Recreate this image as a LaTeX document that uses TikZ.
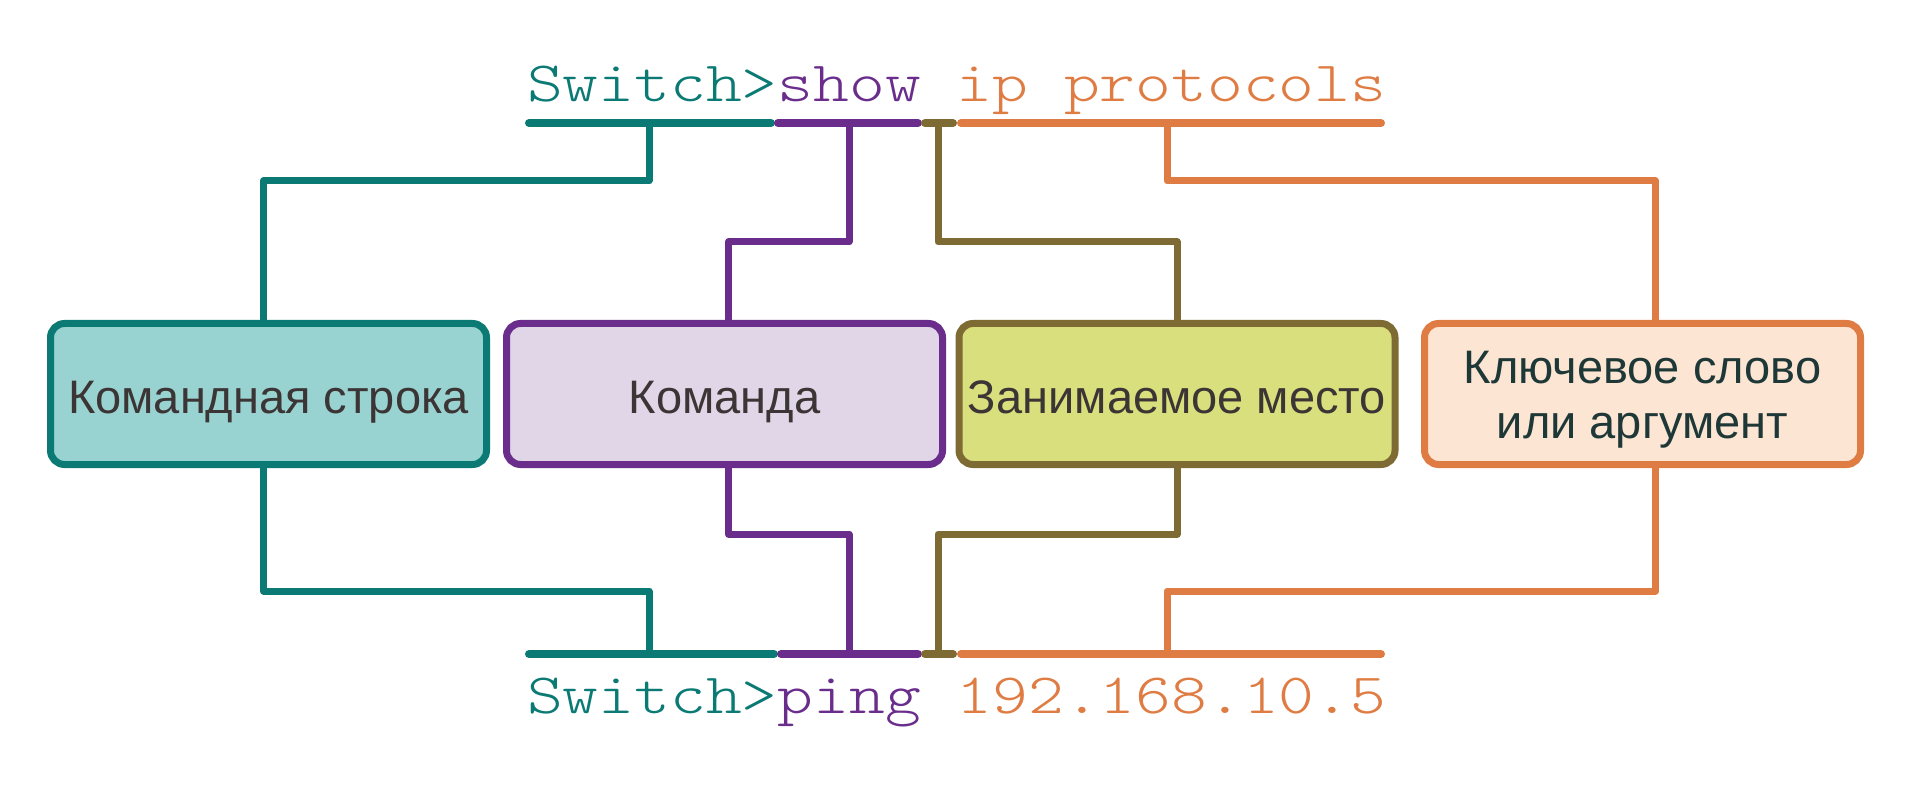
\documentclass[tikz,border=0pt]{standalone}
\usepackage{fontspec}
\setmainfont{Liberation Sans}
\newfontfamily\cmdfont{lmmonolt10-regular.otf}
\usepackage{graphicx}
\definecolor{tealc}{HTML}{0B7A74}
\definecolor{tealf}{HTML}{99D3D1}
\definecolor{purc}{HTML}{6A2D8C}
\definecolor{purf}{HTML}{E0D6E8}
\definecolor{olic}{HTML}{7E6B34}
\definecolor{olif}{HTML}{DADF7D}
\definecolor{orac}{HTML}{DF7C43}
\definecolor{oraf}{HTML}{FDE5D3}
\definecolor{txtc}{HTML}{3C3535}
\definecolor{txtd}{HTML}{1E3838}
\begin{document}
\begin{tikzpicture}[x=1pt,y=-1pt,
  conn/.style={line width=7pt, line join=round},
  uline/.style={line width=8pt, line cap=round},
  box/.style={rounded corners=14pt, line width=7pt, minimum width=436pt, minimum height=141pt, inner sep=0pt, font=\fontsize{47}{55}\selectfont, align=center, text height=38pt, text depth=0pt},
  cmd/.style={anchor=base west, inner sep=0pt, font=\fontsize{57}{60}\selectfont\cmdfont}]
\useasboundingbox (0,0) rectangle (1920,786);

% command texts
\node[cmd] (topcmd) at (527,102) {\scalebox{1.196}[1]{\color{tealc}Switch>\color{purc}show \color{orac}ip protocols}};
\node[cmd] (botcmd) at (527,713) {\scalebox{1.196}[1]{\color{tealc}Switch>\color{purc}ping \color{orac}192.168.10.5}};

% attachment points on the underlines
\coordinate (tT) at (649,123);
\coordinate (tP) at (849,123);
\coordinate (tO) at (938,123);
\coordinate (tR) at (1167,123);
\coordinate (bT) at (649,654);
\coordinate (bP) at (849,654);
\coordinate (bO) at (938,654);
\coordinate (bR) at (1167,654);

% boxes (positions)
\path (268.5,394) coordinate (c1) (724.5,394) coordinate (c2) (1177,394) coordinate (c3) (1642.5,394) coordinate (c4);
\path node[box] (b1) at (c1) {\phantom{x}};
\path node[box] (b2) at (c2) {\phantom{x}};
\path node[box] (b3) at (c3) {\phantom{x}};
\path node[box] (b4) at (c4) {\phantom{x}};

% connectors
\draw[conn, tealc] (tT) -- ++(0,58) -| ([xshift=-5pt]b1.north);
\draw[conn, tealc] (bT) -- ++(0,-63) -| ([xshift=-5pt]b1.south);
\draw[conn, purc] (tP) -- ++(0,119) -| ([xshift=4pt]b2.north);
\draw[conn, purc] (bP) -- ++(0,-120) -| ([xshift=4pt]b2.south);
\draw[conn, olic] (tO) -- ++(0,119) -| (b3.north);
\draw[conn, olic] (bO) -- ++(0,-120) -| (b3.south);
\draw[conn, orac] (tR) -- ++(0,58) -| ([xshift=13pt]b4.north);
\draw[conn, orac] (bR) -- ++(0,-63) -| ([xshift=13pt]b4.south);

% underlines
\draw[uline, tealc] (529,123) -- (771,123);
\draw[uline, purc] (778,123) -- (918,123);
\draw[uline, olic] (925,123) -- (953,123);
\draw[uline, orac] (961,123) -- (1381,123);
\draw[uline, tealc] (529,654) -- (774,654);
\draw[uline, purc] (781,654) -- (918,654);
\draw[uline, olic] (925,654) -- (953,654);
\draw[uline, orac] (961,654) -- (1381,654);

% boxes drawn
\node[box, draw=tealc, fill=tealf, text=txtc] at (c1) {Командная строка};
\node[box, draw=purc, fill=purf, text=txtc] at (c2) {Команда};
\node[box, draw=olic, fill=olif, text=txtc] at (c3) {Занимаемое место};
\node[box, draw=orac, fill=oraf, text=txtd, text height=88pt] at (c4) {Ключевое слово\\или аргумент};
\end{tikzpicture}
\end{document}
